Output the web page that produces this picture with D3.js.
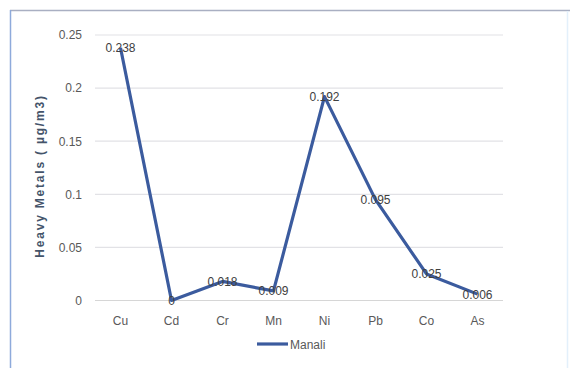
<!DOCTYPE html>
<html>
<head>
<meta charset="utf-8">
<script src="https://cdn.jsdelivr.net/npm/d3@7"></script>
<style>
  html, body { margin: 0; padding: 0; background: #ffffff; }
  svg { display: block; }
</style>
</head>
<body>
<script>
// Heavy metal concentrations measured at Manali
const metals = ["Cu", "Cd", "Cr", "Mn", "Ni", "Pb", "Co", "As"];
const manali = [0.238, 0, 0.018, 0.009, 0.192, 0.095, 0.025, 0.006];
const valueLabels = ["0.238", "0", "0.018", "0.009", "0.192", "0.095", "0.025", "0.006"];
const yTicks = [0, 0.05, 0.1, 0.15, 0.2, 0.25];
const yTickLabels = ["0", "0.05", "0.1", "0.15", "0.2", "0.25"];
const seriesName = "Manali";
const yTitle = "Heavy Metals ( µg/m3)";

const W = 570, H = 368;
const plot = { left: 95, right: 503, top: 35, bottom: 300.5 };
const font = "'Liberation Sans', Arial, sans-serif";
const lineColor = "#3b5b9e";
const textColor = "#595959";

const svg = d3.select("body").append("svg")
  .attr("width", W).attr("height", H);

// Chart frame
svg.append("rect").attr("x", 0).attr("y", 0).attr("width", W).attr("height", H).attr("fill", "#ffffff");
svg.append("line").attr("x1", 10).attr("x2", W).attr("y1", 10.5).attr("y2", 10.5)
  .attr("stroke", "#a9afc2").attr("stroke-width", 1.5);
svg.append("line").attr("x1", 10.5).attr("x2", 10.5).attr("y1", 10).attr("y2", H)
  .attr("stroke", "#8eaadb").attr("stroke-width", 1.5);
svg.append("line").attr("x1", 567.5).attr("x2", 567.5).attr("y1", 11).attr("y2", H)
  .attr("stroke", "#e3f0fb").attr("stroke-width", 1.5);

const x = d3.scaleBand().domain(metals).range([plot.left, plot.right]);
const y = d3.scaleLinear().domain([0, 0.25]).range([plot.bottom, plot.top]);

// Horizontal gridlines
svg.append("g").selectAll("line").data(yTicks).join("line")
  .attr("x1", plot.left).attr("x2", plot.right)
  .attr("y1", d => y(d)).attr("y2", d => y(d))
  .attr("stroke", d => d === 0 ? "#d6d6d6" : "#e2e2e6")
  .attr("stroke-width", 1.2);

// Y axis labels
const yAxis = d3.axisLeft(y).tickValues(yTicks)
  .tickFormat((d, i) => yTickLabels[i]).tickSize(0).tickPadding(13);
const gy = svg.append("g").attr("transform", `translate(${plot.left},0)`).call(yAxis);
gy.select(".domain").remove();
gy.selectAll("text").attr("font-family", font).attr("font-size", 12).attr("fill", textColor);

// X axis labels
const xAxis = d3.axisBottom(x).tickSize(0).tickPadding(16);
const gx = svg.append("g").attr("transform", `translate(0,${plot.bottom})`).call(xAxis);
gx.select(".domain").remove();
gx.selectAll("text").attr("font-family", font).attr("font-size", 12).attr("fill", textColor);

// Y axis title
svg.append("text")
  .attr("transform", `translate(44,176) rotate(-90)`)
  .attr("text-anchor", "middle")
  .attr("font-family", font).attr("font-size", 12).attr("font-weight", "bold")
  .attr("letter-spacing", 1.8)
  .attr("fill", "#44546a")
  .text(yTitle);

// Series line
const line = d3.line()
  .x((d, i) => x(metals[i]) + x.bandwidth() / 2)
  .y(d => y(d));
svg.append("path").datum(manali)
  .attr("d", line)
  .attr("fill", "none")
  .attr("stroke", lineColor)
  .attr("stroke-width", 3.2)
  .attr("stroke-linejoin", "round");

// Data labels centred on each point
svg.append("g").selectAll("text").data(manali).join("text")
  .attr("x", (d, i) => x(metals[i]) + x.bandwidth() / 2)
  .attr("y", d => y(d) + 4.5)
  .attr("text-anchor", "middle")
  .attr("font-family", font).attr("font-size", 12)
  .attr("fill", "#404040")
  .text((d, i) => valueLabels[i]);

// Legend
const lg = svg.append("g").attr("transform", "translate(257,344)");
lg.append("line").attr("x1", 0).attr("x2", 31).attr("y1", 0).attr("y2", 0)
  .attr("stroke", lineColor).attr("stroke-width", 3.2);
lg.append("text").attr("x", 33).attr("y", 4.5)
  .attr("font-family", font).attr("font-size", 12).attr("fill", textColor)
  .text(seriesName);
</script>
</body>
</html>
